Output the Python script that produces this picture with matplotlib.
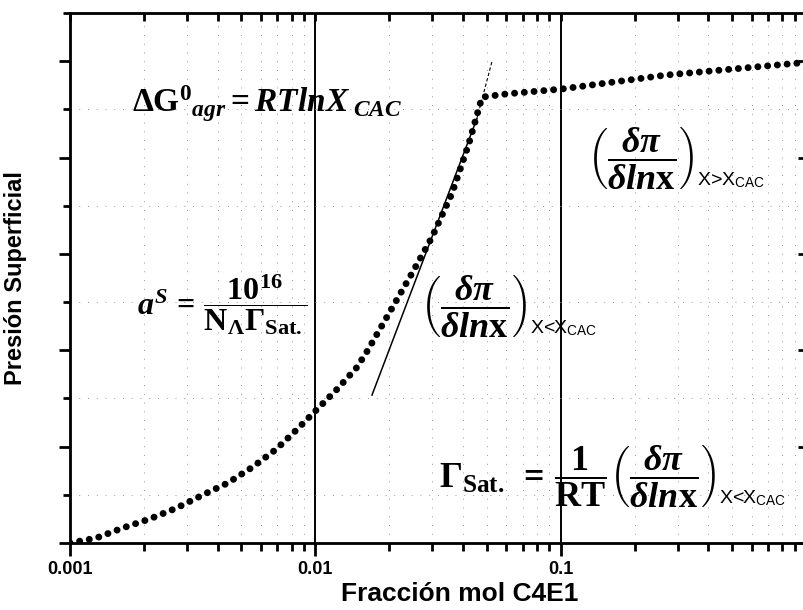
import matplotlib.pyplot as plt
from matplotlib.ticker import LogLocator, MultipleLocator, NullFormatter

# Values (surface pressure, arbitrary units)
x_mol = [0.001, 0.00128, 0.00164, 0.00211, 0.00272, 0.00347, 0.00439, 0.00555,
         0.00694, 0.00837, 0.0101, 0.01217, 0.01468, 0.0161, 0.020, 0.0248,
         0.0299, 0.0361, 0.0423, 0.0478, 0.060, 0.100, 0.267, 0.927]
presion = [0.0, 0.052, 0.156, 0.249, 0.363, 0.498, 0.622, 0.788,
           0.975, 1.172, 1.380, 1.587, 1.815, 1.971, 2.386, 2.801,
           3.174, 3.631, 4.149, 4.627, 4.66, 4.71, 4.855, 4.98]

# tangent drawn below the CAC
tangent_x = [0.01702, 0.0455]
tangent_y = [1.535, 4.40]
tangent_ext_x = [0.0455, 0.0524]
tangent_ext_y = [4.40, 4.99]

x_ticks = [0.001, 0.01, 0.1, 1.0]
x_tick_labels = ["0.001", "0.01", "0.1", ""]

plt.rcParams['mathtext.fontset'] = 'custom'
plt.rcParams['mathtext.rm'] = 'Liberation Serif:bold'
plt.rcParams['mathtext.it'] = 'Liberation Serif:italic:bold'
plt.rcParams['mathtext.bf'] = 'Liberation Serif:bold'
plt.rcParams['mathtext.sf'] = 'Liberation Sans'

fig = plt.figure(figsize=(8.04, 6.10), dpi=100)
ax = fig.add_axes([70 / 804, 67 / 610, 736 / 804, 530 / 610])

ax.set_xscale('log')
ax.set_xlim(0.001, 1.0)
ax.set_ylim(0, 5.5)

# faint dotted grid at the minor positions
ax.xaxis.set_minor_locator(LogLocator(base=10, subs=range(2, 10)))
ax.xaxis.set_minor_formatter(NullFormatter())
ax.yaxis.set_major_locator(MultipleLocator(1))
ax.yaxis.set_minor_locator(MultipleLocator(0.5))
ax.grid(True, which='minor', color='0.6', linewidth=0.7, linestyle=(0, (1, 8)))
for xv in [0.01, 0.1]:
    ax.axvline(xv, color='black', linewidth=1.4, zorder=1)

ax.plot(x_mol, presion, color='black', linewidth=5.0,
        linestyle=(0, (0.01, 1.4)), dash_capstyle='round', zorder=3)
ax.plot(tangent_x, tangent_y, color='black', linewidth=1.1, zorder=2)
ax.plot(tangent_ext_x, tangent_ext_y, color='black', linewidth=0.8,
        linestyle=(0, (3, 2)), zorder=2)

ax.set_xticks(x_ticks)
ax.set_xticklabels(x_tick_labels, fontsize=13, fontweight='bold', family='Liberation Sans')
ax.set_yticklabels([])
ax.tick_params(axis='x', which='major', direction='out', length=9, width=2, pad=4)
ax.tick_params(axis='x', which='minor', direction='out', length=6, width=2)
ax.tick_params(axis='y', which='major', direction='out', length=8, width=2)
ax.tick_params(axis='y', which='minor', direction='out', length=5, width=2)
for s in ax.spines.values():
    s.set_linewidth(2)

# top and right: inward ticks
ax_top = ax.twiny()
ax_top.set_xscale('log')
ax_top.set_xlim(ax.get_xlim())
ax_top.xaxis.set_minor_locator(LogLocator(base=10, subs=range(2, 10)))
ax_top.tick_params(axis='x', which='both', direction='in', length=6, width=2,
                   labeltop=False)
ax_right = ax.twinx()
ax_right.set_ylim(ax.get_ylim())
ax_right.yaxis.set_major_locator(MultipleLocator(1))
ax_right.tick_params(axis='y', direction='in', length=6, width=2, labelright=False)

ax.set_xlabel("Fracción mol C4E1", fontsize=19, fontweight='bold',
              family='Liberation Sans', labelpad=0)
ax.xaxis.set_label_coords(0.53, -0.074)
ax.set_ylabel("Presión Superficial", fontsize=17, fontweight='bold',
              family='Liberation Sans')
ax.yaxis.set_label_coords(-0.058, 0.5)

frac = r'$\left(\dfrac{\delta\pi}{\delta ln\mathrm{x}}\right)$'


def add_sub(t, sub):
    ax.annotate(sub, xy=(1.0, 0.0), xycoords=t, xytext=(2, 1),
                textcoords='offset points', fontsize=14,
                family='Liberation Sans', ha='left', va='bottom')


ax.text(0.00179, 4.56, r'$\Delta\mathrm{G}^{0}{}_{agr}=RTlnX_{\ CAC}$',
        fontsize=24, ha='left', va='center')

t1 = ax.text(0.128, 4.00, frac, fontsize=26, ha='left', va='center')
add_sub(t1, r'X>X$_{\mathsf{CAC}}$')

ax.text(0.00187, 2.47,
        r'$a^{S}\,=\,\dfrac{\mathrm{10}^{16}}{\mathrm{N}_{\Lambda}\Gamma_{\mathrm{Sat.}}}$',
        fontsize=23, ha='left', va='center')

t2 = ax.text(0.0268, 2.46, frac, fontsize=26, ha='left', va='center')
add_sub(t2, r'X<X$_{\mathsf{CAC}}$')

t3 = ax.text(0.0319, 0.70,
             r'$\Gamma_{\mathrm{Sat.}}\ =\,\dfrac{1}{\mathrm{RT}}\left(\dfrac{\delta\pi}{\delta ln\mathrm{x}}\right)$',
             fontsize=26, ha='left', va='center')
add_sub(t3, r'X<X$_{\mathsf{CAC}}$')

fig.savefig("out.png", dpi=100)
